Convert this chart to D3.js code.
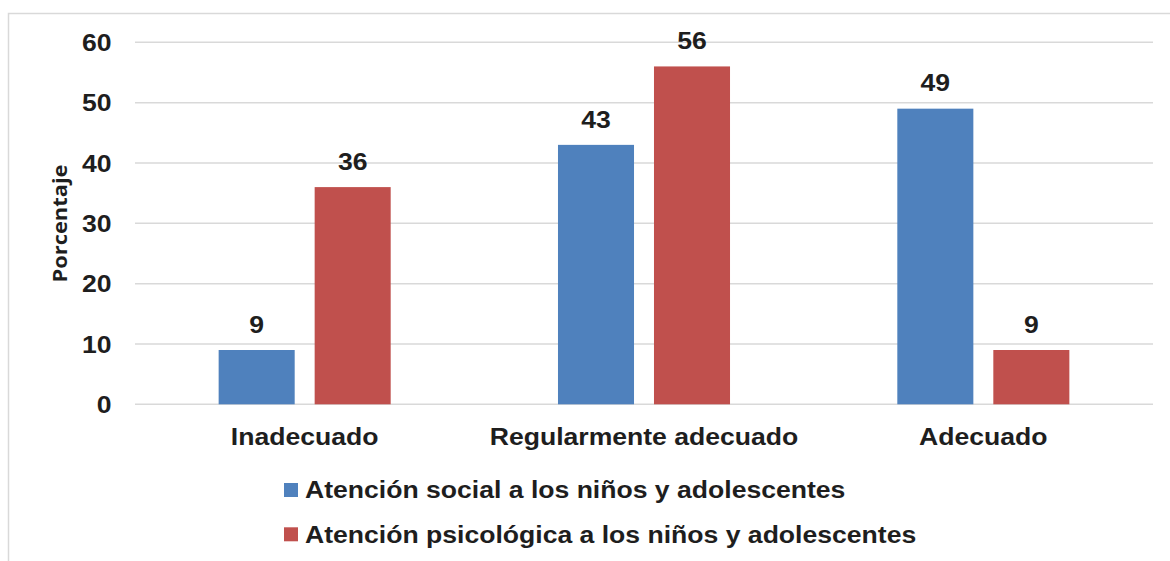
<!DOCTYPE html>
<html>
<head>
<meta charset="utf-8">
<script src="https://cdn.jsdelivr.net/npm/d3@7"></script>
<style>
  html, body { margin: 0; padding: 0; background: #ffffff; }
  svg { display: block; }
</style>
</head>
<body>
<script>
const categories = ["Inadecuado", "Regularmente adecuado", "Adecuado"];
const seriesNames = ["Atención social a los niños y adolescentes", "Atención psicológica a los niños y adolescentes"];
const socialValues = [9, 43, 49];
const psicoValues = [36, 56, 9];
const yTicks = [0, 10, 20, 30, 40, 50, 60];
const colors = ["#4F81BD", "#C0504D"];
const yTitle = "Porcentaje";

const W = 1170, H = 561;
const textColor = "#1e1e1e";
const gridColor = "#d9d9d9";
const font = "'Liberation Sans', Arial, sans-serif";
const fs = 24.5;
const sx = 1.085;

const svg = d3.select("body").append("svg").attr("width", W).attr("height", H);

// chart border
svg.append("rect").attr("x", 8.5).attr("y", 13.5).attr("width", W + 10).attr("height", H + 10)
  .attr("fill", "none").attr("stroke", gridColor).attr("stroke-width", 1.5);

const plot = { left: 135, right: 1153, top: 42.3, bottom: 404.3 };

const y = d3.scaleLinear().domain([0, 60]).range([plot.bottom, plot.top]);
const x0 = d3.scaleBand().domain(categories).range([plot.left, plot.right])
  .paddingInner(0.493).paddingOuter(0.2465);
const x1 = d3.scaleBand().domain(seriesNames).range([0, x0.bandwidth()]).paddingInner(0.208);

// gridlines
svg.append("g").selectAll("line").data(yTicks).join("line")
  .attr("x1", plot.left).attr("x2", plot.right)
  .attr("y1", d => y(d)).attr("y2", d => y(d))
  .attr("stroke", gridColor).attr("stroke-width", 1.5);

// y tick labels
svg.append("g").selectAll("text").data(yTicks).join("text")
  .attr("transform", d => `translate(111.5,${y(d)}) scale(${sx},1)`)
  .attr("dy", "0.36em")
  .attr("text-anchor", "end")
  .attr("font-family", font).attr("font-weight", "bold").attr("font-size", fs)
  .attr("fill", textColor)
  .text(d => d);

// y title
svg.append("text")
  .attr("transform", "translate(66.5,223.5) rotate(-90) scale(1.15,1)")
  .attr("text-anchor", "middle")
  .attr("font-family", "'Open Sans', sans-serif").attr("font-weight", "bold").attr("font-size", 19)
  .attr("fill", textColor)
  .text(yTitle);

const data = categories.map((c, i) => ({
  cat: c,
  vals: [
    { s: seriesNames[0], v: socialValues[i], color: colors[0] },
    { s: seriesNames[1], v: psicoValues[i], color: colors[1] }
  ]
}));

const groups = svg.append("g").selectAll("g").data(data).join("g")
  .attr("transform", d => `translate(${x0(d.cat)},0)`);

groups.selectAll("rect").data(d => d.vals).join("rect")
  .attr("x", d => x1(d.s))
  .attr("y", d => y(d.v))
  .attr("width", x1.bandwidth())
  .attr("height", d => y(0) - y(d.v))
  .attr("fill", d => d.color);

groups.selectAll("text").data(d => d.vals).join("text")
  .attr("transform", d => `translate(${x1(d.s) + x1.bandwidth() / 2},${y(d.v) - 17.3}) scale(${sx},1)`)
  .attr("text-anchor", "middle")
  .attr("font-family", font).attr("font-weight", "bold").attr("font-size", fs)
  .attr("fill", textColor)
  .text(d => d.v);

// category labels
svg.append("g").selectAll("text").data(categories).join("text")
  .attr("transform", d => `translate(${x0(d) + x0.bandwidth() / 2},445.3) scale(${sx},1)`)
  .attr("text-anchor", "middle")
  .attr("font-family", font).attr("font-weight", "bold").attr("font-size", fs)
  .attr("fill", textColor)
  .text(d => d);

// legend
const legend = svg.append("g").selectAll("g").data(seriesNames).join("g")
  .attr("transform", (d, i) => `translate(284,${483 + i * 44.3})`);
legend.append("rect").attr("width", 14).attr("height", 14).attr("fill", (d, i) => colors[i]);
legend.append("text")
  .attr("transform", `translate(21,15.3) scale(${sx},1)`)
  .attr("font-family", font).attr("font-weight", "bold").attr("font-size", fs)
  .attr("fill", textColor)
  .text(d => d);
</script>
</body>
</html>
